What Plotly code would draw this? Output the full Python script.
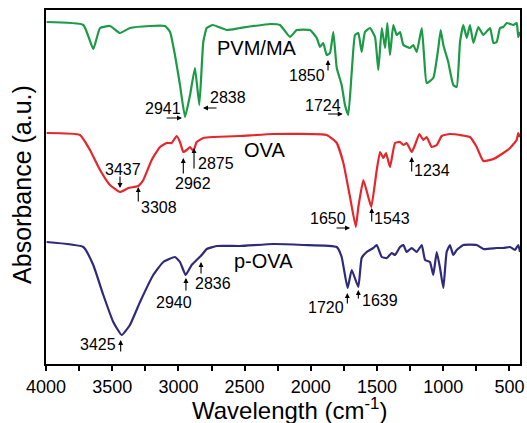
import plotly.graph_objects as go

# ---------------- data (wavenumber cm^-1, absorbance a.u. with offsets) ----------------
pvm_wn = [3995, 3718, 3643, 3592, 3517, 3441, 3366, 3214, 3101, 3063, 3026, 2988, 2950, 2912,
          2875, 2842, 2812, 2786, 2739, 2635, 2535, 2308, 2233, 2157, 2106, 2006, 1955, 1930,
          1906, 1880, 1855, 1830, 1804, 1767, 1742, 1717, 1691, 1666, 1641, 1616, 1591, 1553,
          1515, 1490, 1464, 1439, 1422, 1402, 1377, 1351, 1326, 1301, 1251, 1226, 1200, 1162,
          1145, 1125, 1075, 1037, 1019, 999, 962, 924, 898, 873, 848, 822, 798, 772, 735, 697,
          646, 621, 596, 571, 546, 520, 470, 445, 433, 420]
pvm_ab = [3.42, 3.39, 3.15, 3.36, 3.38, 3.31, 3.36, 3.38, 3.38, 3.32, 3.09, 2.79, 2.47, 2.69,
          2.96, 2.59, 3.22, 3.36, 3.39, 3.34, 3.36, 3.40, 3.39, 3.27, 3.34, 3.34, 3.26, 3.17,
          3.21, 3.09, 3.11, 3.32, 2.96, 2.79, 2.59, 2.49, 2.92, 3.29, 3.31, 3.12, 3.32, 3.36,
          3.27, 2.94, 3.36, 3.16, 3.41, 3.09, 3.39, 3.29, 3.32, 3.19, 3.16, 3.19, 3.12, 3.36,
          3.09, 2.81, 2.86, 3.16, 3.34, 3.19, 3.02, 2.79, 2.77, 3.22, 3.39, 3.26, 3.39, 3.21,
          3.37, 3.29, 3.36, 3.21, 3.22, 3.36, 3.37, 3.41, 3.39, 3.41, 3.27, 3.32]

ova_wn = [3995, 3743, 3668, 3592, 3517, 3441, 3378, 3303, 3265, 3202, 3139, 3088, 3051, 3013,
          2988, 2963, 2937, 2912, 2887, 2862, 2812, 2736, 2535, 2283, 1880, 1804, 1754, 1704,
          1660, 1641, 1603, 1566, 1543, 1502, 1477, 1452, 1432, 1402, 1364, 1326, 1301, 1276,
          1238, 1213, 1180, 1150, 1125, 1087, 1049, 1011, 949, 873, 798, 747, 697, 621, 546,
          495, 445, 433, 420]
ova_ab = [2.31, 2.29, 2.14, 1.94, 1.79, 1.72, 1.76, 1.78, 1.84, 2.04, 2.17, 2.21, 2.21, 2.28,
          2.22, 2.12, 2.14, 2.17, 2.13, 2.22, 2.26, 2.27, 2.28, 2.30, 2.29, 2.21, 2.01, 1.67,
          1.37, 1.57, 1.84, 1.67, 1.57, 1.94, 2.12, 2.06, 2.11, 1.97, 2.21, 2.22, 2.19, 2.21,
          2.12, 2.19, 2.30, 2.24, 2.27, 2.17, 2.19, 2.28, 2.30, 2.29, 2.27, 2.17, 2.03, 2.05, 2.11,
          2.16, 2.24, 2.31, 2.27]

pova_wn = [3995, 3718, 3643, 3567, 3492, 3428, 3366, 3290, 3190, 3114, 3026, 2988, 2945, 2900,
           2862, 2824, 2786, 2711, 2535, 2283, 2057, 1804, 1767, 1722, 1691, 1641, 1616, 1578,
           1528, 1502, 1464, 1426, 1389, 1364, 1326, 1301, 1276, 1238, 1200, 1162, 1137, 1100,
           1075, 1049, 1024, 999, 974, 949, 924, 898, 848, 747, 697, 596, 546, 495, 458, 433, 420]
pova_ab = [1.22, 1.17, 0.99, 0.69, 0.42, 0.29, 0.39, 0.62, 0.89, 1.02, 1.07, 1.02, 0.89, 0.99,
           1.04, 1.09, 1.15, 1.18, 1.18, 1.20, 1.19, 1.17, 1.07, 0.76, 0.94, 0.77, 1.06, 1.12,
           1.16, 1.19, 1.07, 1.06, 1.11, 1.09, 1.17, 1.19, 1.12, 1.16, 1.12, 1.19, 1.04, 1.02,
           0.89, 1.12, 0.96, 0.76, 1.12, 1.19, 1.09, 1.14, 1.19, 1.19, 1.15, 1.16, 1.16, 1.17,
           1.14, 1.19, 1.12]

x_ticks = [4000, 3500, 3000, 2500, 2000, 1500, 1000, 500]
x_tick_labels = ["4000", "3500", "3000", "2500", "2000", "1500", "1000", "500"]

# curve names: (text, x, y)
curve_labels = [("PVM/MA", 2406, 3.16), ("OVA", 2353, 2.14), ("p-OVA", 2361, 1.03)]

# peak labels: (text, x, y)
peak_labels = [
    ("2941", 3116, 2.56), ("2838", 2623, 2.67), ("1850", 2031, 2.89), ("1724", 1906, 2.59),
    ("3437", 3422, 1.95), ("3308", 3147, 1.57), ("2962", 2893, 1.81), ("2875", 2714, 2.01),
    ("1234", 1087, 1.94), ("1543", 1387, 1.46), ("1650", 1868, 1.46),
    ("2940", 3033, 0.62), ("2836", 2742, 0.81), ("3425", 3605, 0.20),
    ("1720", 1885, 0.57), ("1639", 1477, 0.64),
]

# arrows: (tail_x, tail_y, head_x, head_y)
arrows = [
    (3101, 2.46, 2973, 2.46), (2701, 2.56, 2814, 2.56), (1870, 2.92, 1870, 3.04),
    (1880, 2.50, 1759, 2.50),
    (3441, 1.89, 3441, 1.76), (3303, 1.61, 3303, 1.77), (2963, 1.89, 2963, 2.06),
    (2882, 1.94, 2882, 2.16), (1238, 1.91, 1238, 2.07), (1540, 1.41, 1540, 1.56),
    (1817, 1.36, 1704, 1.36),
    (2943, 0.72, 2943, 0.86), (2829, 0.89, 2829, 1.02), (3436, 0.11, 3436, 0.24),
    (1724, 0.59, 1724, 0.71), (1641, 0.64, 1641, 0.74),
]

colors = {"PVM/MA": "#1c9a45", "OVA": "#e5262b", "p-OVA": "#2e2a7c"}

FONT = "Liberation Sans, Arial, sans-serif"

fig = go.Figure()
for name, wn, ab in [("PVM/MA", pvm_wn, pvm_ab), ("OVA", ova_wn, ova_ab), ("p-OVA", pova_wn, pova_ab)]:
    fig.add_trace(go.Scatter(x=wn, y=ab, mode="lines", name=name,
                             line=dict(color=colors[name], width=2.2, shape="spline", smoothing=0.4),
                             showlegend=False))

annotations = []
for t, x, y in curve_labels:
    annotations.append(dict(text=t, x=x, y=y, xref="x", yref="y", showarrow=False,
                            font=dict(family=FONT, size=20, color="black")))
for t, x, y in peak_labels:
    annotations.append(dict(text=t, x=x, y=y, xref="x", yref="y", showarrow=False,
                            font=dict(family=FONT, size=16, color="black")))
for tx, ty, hx, hy in arrows:
    annotations.append(dict(text="", x=hx, y=hy, ax=tx, ay=ty, xref="x", yref="y",
                            axref="x", ayref="y", showarrow=True, arrowhead=2,
                            arrowsize=0.9, arrowwidth=1.1, arrowcolor="black"))

annotations.append(dict(text="Wavelength (cm<sup>-1</sup>)", x=0.513, y=-0.128,
                        xref="paper", yref="paper", showarrow=False, yanchor="middle",
                        font=dict(family=FONT, size=24, color="black")))
annotations.append(dict(text="Absorbance (a.u.)", x=-0.0506, y=0.506, textangle=-90,
                        xref="paper", yref="paper", showarrow=False, xanchor="center",
                        font=dict(family=FONT, size=25, color="black")))

fig.update_layout(
    width=527, height=423,
    margin=dict(l=46, r=7, t=10, b=59),
    paper_bgcolor="white", plot_bgcolor="white",
    annotations=annotations,
    xaxis=dict(range=[4000, 420], tickvals=x_ticks, ticktext=x_tick_labels,
               ticks="outside", ticklen=5, tickwidth=1.5, tickcolor="black",
               minor=dict(ticks="outside", ticklen=5, tickwidth=1.5, tickcolor="black",
                          tick0=0, dtick=250),
               showline=True, linewidth=2, linecolor="black", mirror=True,
               showgrid=False, zeroline=False, automargin=False,
               tickfont=dict(family=FONT, size=18, color="black")),
    yaxis=dict(range=[0, 3.54], showticklabels=False, ticks="",
               showline=True, linewidth=2, linecolor="black", mirror=True,
               showgrid=False, zeroline=False, automargin=False),
)

fig.write_html("out.html", config={"displayModeBar": False},
               post_script="document.body.style.margin='0';document.body.style.overflow='hidden';")
